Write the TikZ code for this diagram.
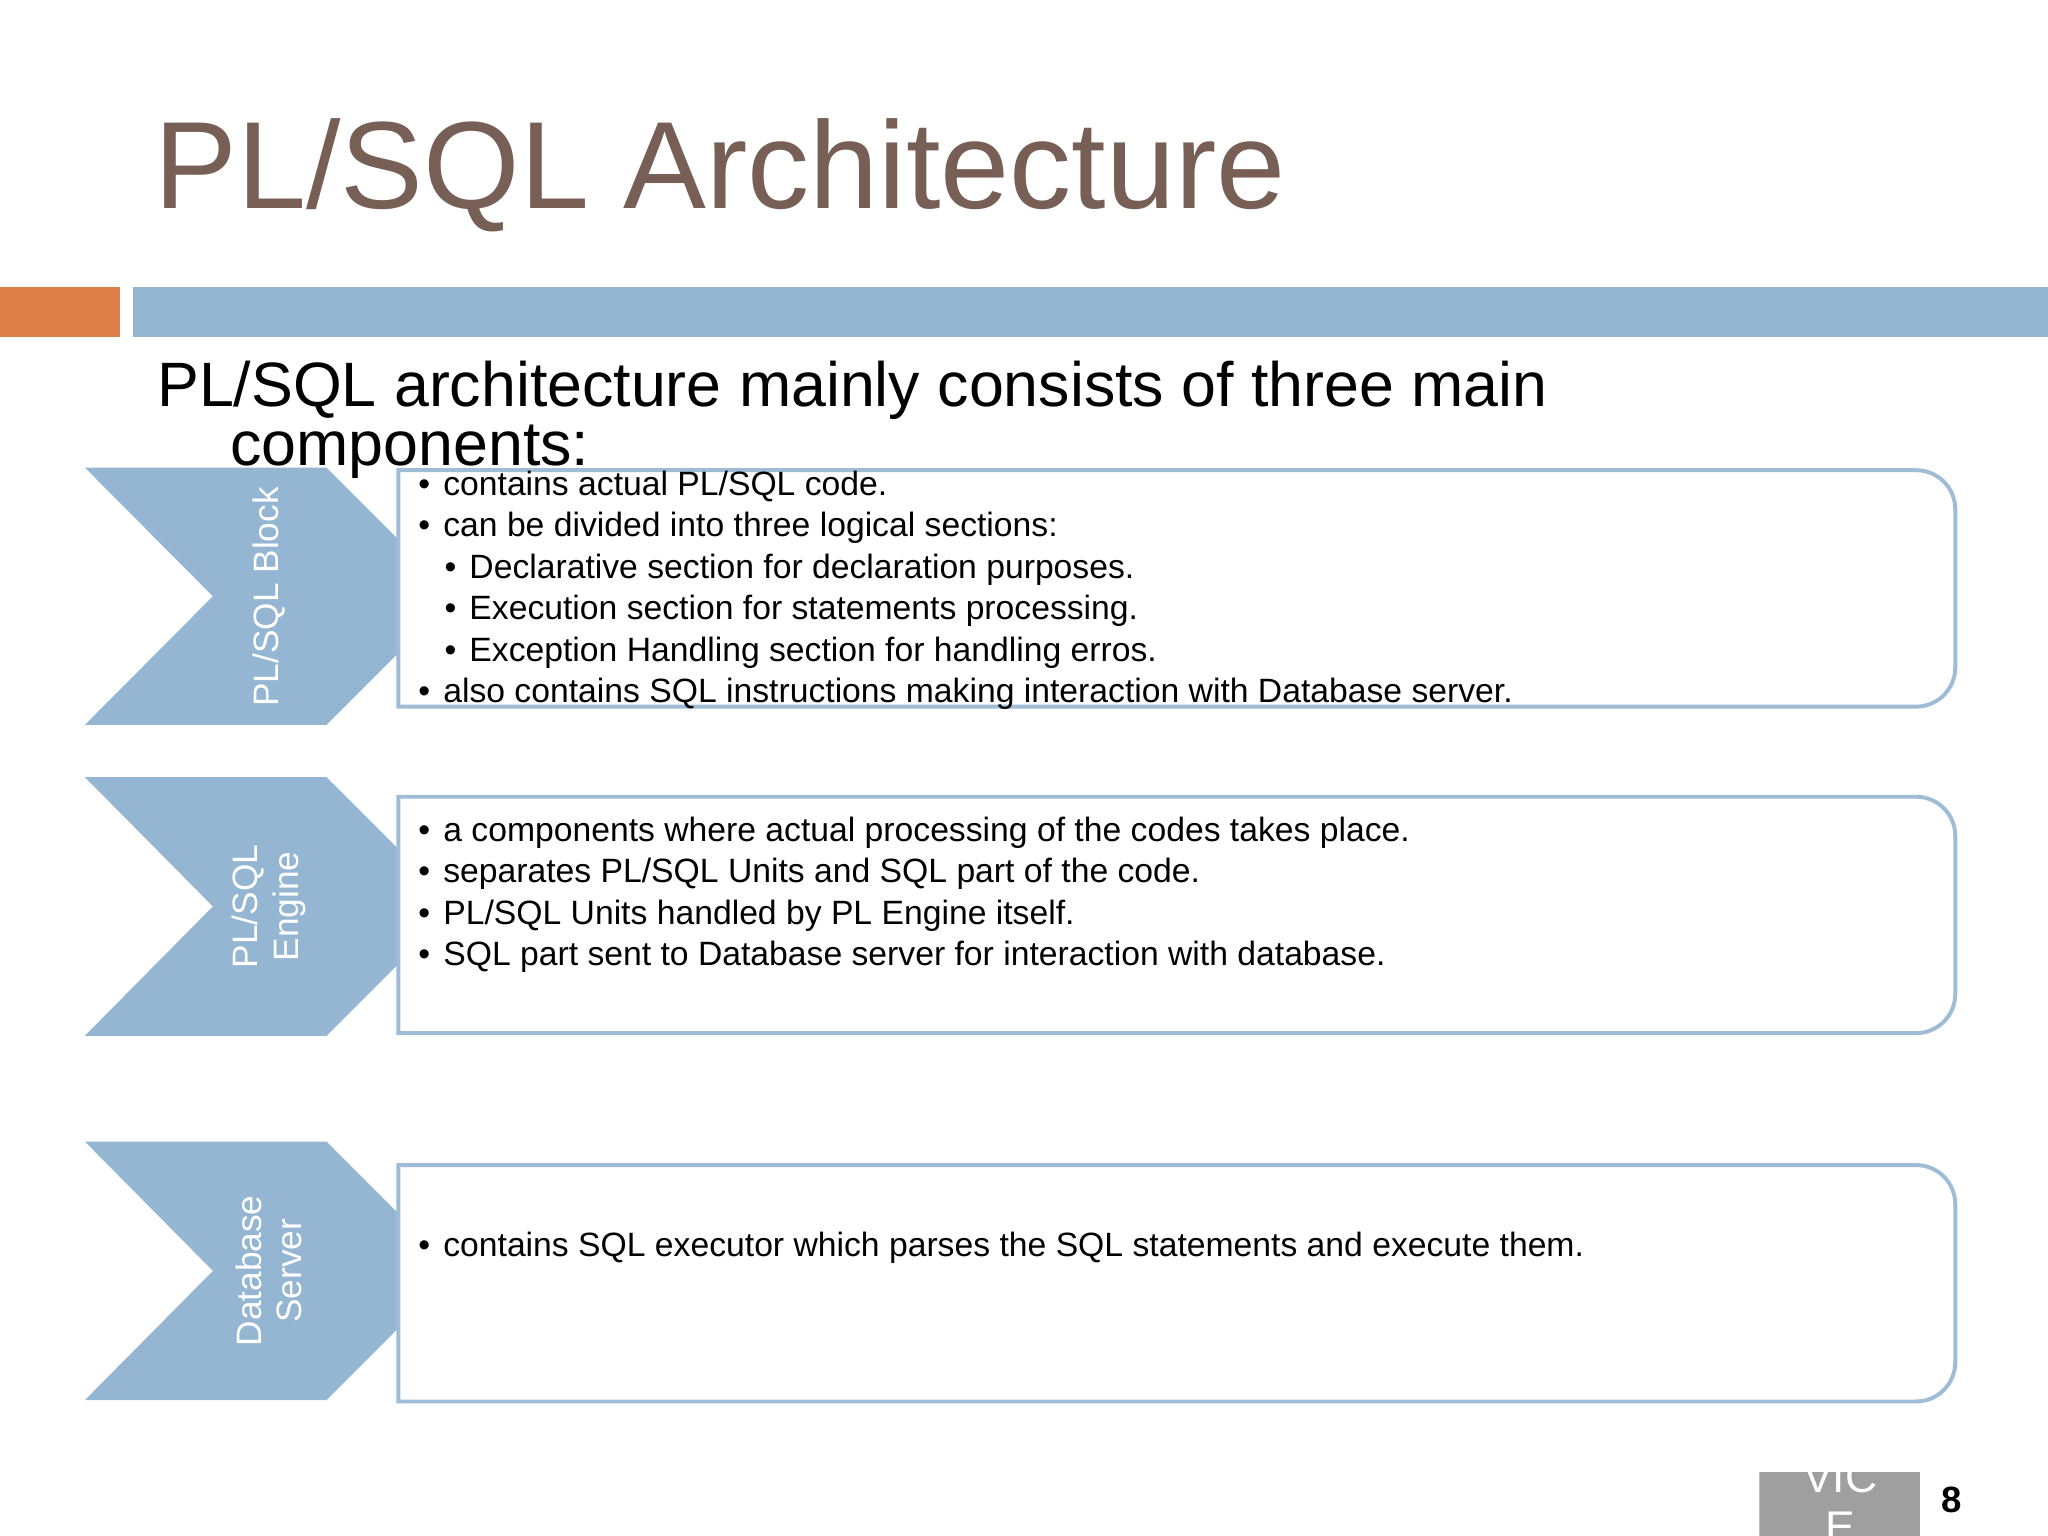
\documentclass[tikz,border=0pt]{standalone}
\usepackage{fontspec}
\setmainfont{Liberation Sans}
\definecolor{bl}{HTML}{94B6D2}
\definecolor{bl2}{HTML}{9FBCD6}
\definecolor{org}{HTML}{DD8047}
\definecolor{ttl}{HTML}{775F55}
\newcommand{\bb}{\textbullet\hspace{5pt}}
\begin{document}
\begin{tikzpicture}[x=0.5pt,y=-0.5pt,
  chev/.style={fill=bl,draw=none},
  box/.style={draw=bl2,line width=1.5pt,fill=white},
  bul/.style={anchor=north west,inner sep=0,font=\fontsize{12.9}{15.9}\selectfont,align=left},
  lab/.style={rotate=90,text=white,font=\fontsize{13.5}{15.5}\selectfont,align=center}]
\useasboundingbox (0,0) rectangle (1568,1176);
\fill[white] (0,0) rectangle (1568,1176);
\node[anchor=base west,inner sep=0,text=ttl,font=\fontsize{47.5}{50}\selectfont] (title) at (118,160) {PL/SQL Architecture};
\fill[org] (0,220) rectangle (92,258);
\fill[bl] (102,220) rectangle (1568,258);
\node[anchor=north west,inner sep=0,align=left,font=\fontsize{24}{22.5}\selectfont] (intro) at (120,276) {PL/SQL architecture mainly consists of three main\\\hspace*{28pt}components:};
% chevrons
\foreach \t/\b in {358/555,595/793,874/1072}{
  \fill[chev] (65,\t) -- (250,\t) -- (305,{\t+55}) -- (305,{\b-55}) -- (250,\b) -- (65,\b) -- (163,{(\t+\b)/2}) -- cycle;
}
\node[lab] (l1) at (206,457) {PL/SQL Block};
\node[lab] (l2) at (206,694) {PL/SQL\\Engine};
\node[lab] (l3) at (206,973) {Database\\Server};
% boxes
\foreach \t/\b in {360/541,610/791,892/1073}{
  \draw[box] (305,\b) -- (305,\t) [rounded corners=15pt]-- (1497,\t) -- (1497,\b) [sharp corners]-- cycle;
}
\node[bul] (t1) at (320,360) {\bb contains actual PL/SQL code.\\
\bb can be divided into three logical sections:\\
\hspace*{10pt}\bb Declarative section for declaration purposes.\\
\hspace*{10pt}\bb Execution section for statements processing.\\
\hspace*{10pt}\bb Exception Handling section for handling erros.\\
\bb also contains SQL instructions making interaction with Database server.};
\node[bul] (t2) at (320,625) {\bb a components where actual processing of the codes takes place.\\
\bb separates PL/SQL Units and SQL part of the code.\\
\bb PL/SQL Units handled by PL Engine itself.\\
\bb SQL part sent to Database server for interaction with database.};
\node[bul] (t3) at (320,943) {\bb contains SQL executor which parses the SQL statements and execute them.};
% footer
\begin{scope}
\clip (1347,1127) rectangle (1470,1176);
\fill[gray!75] (1347,1127) rectangle (1470,1176);
\node[text=white,align=center,font=\fontsize{17}{19}\selectfont] (vic) at (1409,1150) {VIC\\E};
\end{scope}
\node[font=\bfseries\fontsize{14}{14}\selectfont] (pg) at (1494,1148) {8};
\end{tikzpicture}
\end{document}
